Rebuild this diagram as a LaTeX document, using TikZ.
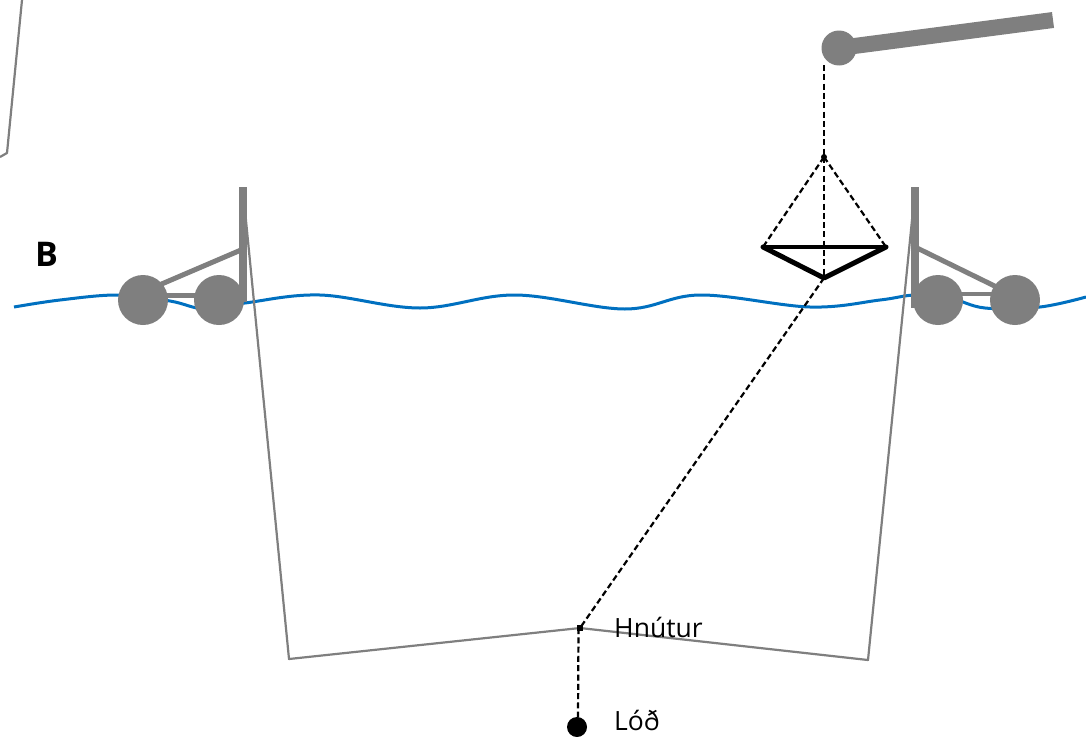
\documentclass[tikz,border=0pt]{standalone}
\usepackage{fontspec}
\setmainfont{Open Sans}
\tikzset{
  wave/.style={draw=waterblue,line width=3pt,line join=round},
  net/.style={draw=netgrey,line width=2.2pt,line join=round},
  strut/.style={draw=netgrey,line width=7.5pt},
  brace/.style={draw=netgrey,line width=5pt},
  ball/.style={circle,fill=netgrey,inner sep=0pt,minimum size=50pt},
  rope/.style={draw=black,line width=2.2pt,dash pattern=on 6pt off 3.3pt},
  tri/.style={draw=black,line width=5pt,line join=round,line cap=round},
  label/.style={anchor=base west,inner sep=0pt,font=\fontsize{26.5}{30}\selectfont,text=black},
}
\definecolor{waterblue}{HTML}{0070C0}
\definecolor{netgrey}{HTML}{7F7F7F}
\begin{document}
\begin{tikzpicture}[x=1pt,y=-1pt]
\useasboundingbox (0,0) rectangle (1086,736);
% water
\draw[wave] plot[smooth,tension=0.6] coordinates {(14,307) (60,300) (118,295) (170,301) (205,309) (245,303) (320,295) (420,308) (515,295) (625,309) (700,295) (810,307) (880,300) (915,295) (950,298) (985,308) (1040,307) (1086,297)};
% net
\coordinate (nl) at (243,190);
\coordinate (bl) at (289,659);
\coordinate (kn) at (580,628);
\coordinate (br) at (868,660);
\coordinate (nr) at (915,190);
\draw[net] (nl) -- (bl) -- (kn) -- (br) -- (nr);
\draw[net] (22,0) -- (7,153) -- (0,157);
% left float
\node[ball] (la) at (143,300) {};
\node[ball] (lb) at (219,300) {};
\coordinate (lt) at (243,187);
\coordinate (lf) at (243,302);
\coordinate (lj) at (241,250);
\coordinate (la1) at (143,292);
\coordinate (la2) at (143,295);
\coordinate (lb2) at (219,295);
\draw[strut] (lt) -- (lf);
\draw[brace] (lj) -- (la1);
\draw[brace] (la2) -- (lb2);
% right float
\node[ball] (ra) at (938,300) {};
\node[ball] (rb) at (1015,300) {};
\coordinate (rt) at (915,187);
\coordinate (rf) at (915,308);
\coordinate (rj) at (917,248);
\coordinate (rb1) at (1015,296);
\coordinate (ra2) at (938,294);
\coordinate (rb2) at (1015,294);
\draw[strut] (rt) -- (rf);
\draw[brace] (rj) -- (rb1);
\draw[draw=netgrey,line width=4pt] (ra2) -- (rb2);
% crane
\node[circle,fill=netgrey,inner sep=0pt,minimum size=35pt] (cr) at (839,48) {};
\coordinate (ce) at (1053,20);
\draw[draw=netgrey,line width=16pt] (cr.center) -- (ce);
% float gear
\coordinate (ct) at (824,65);
\coordinate (ap) at (824,157);
\coordinate (tl) at (763,247);
\coordinate (tr) at (886,247);
\coordinate (tb) at (824,278);
\draw[rope] (ct) -- (ap);
\draw[rope] (ap) -- (tl);
\draw[rope] (ap) -- (tr);
\draw[rope] (ap) -- (tb);
\fill[black] (ap) circle (3pt);
\draw[tri] (tl) -- (tb) -- (tr);
\draw[draw=black,line width=3.5pt,line cap=round] (tl) -- (tr);
% knot and weight
\node[circle,fill=black,inner sep=0pt,minimum size=20pt] (ld) at (577,727) {};
\coordinate (kv) at (578.5,628);
\coordinate (lv) at (578,720);
\draw[rope] (tb) -- (kn);
\draw[rope] (kv) -- (lv);
\fill[black] (kn) ++(-3,-3) rectangle ++(6,6);
% labels
\node[label] (hn) at (614,637) {Hnútur};
\node[label] (lo) at (614,730) {Lóð};
\node[anchor=base west,inner sep=0pt,font=\fontsize{34}{38}\selectfont\bfseries] (b) at (35,266) {B};
\end{tikzpicture}
\end{document}
